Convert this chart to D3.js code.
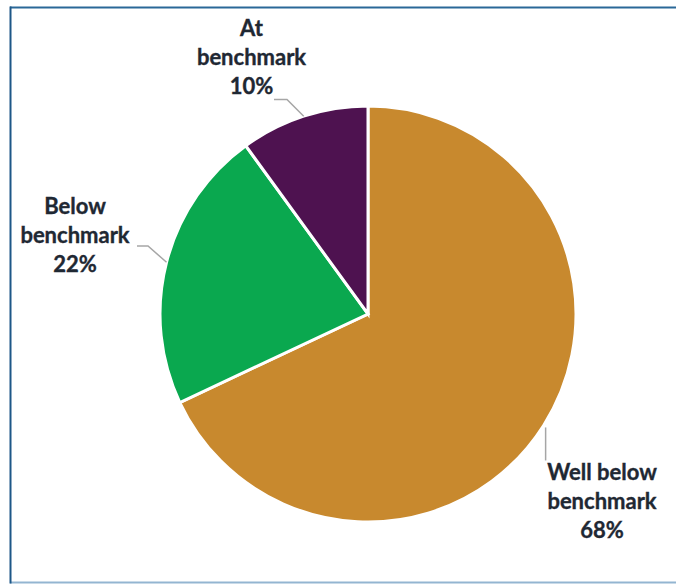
<!DOCTYPE html>
<html>
<head>
<meta charset="utf-8">
<script src="https://cdn.jsdelivr.net/npm/d3@7"></script>
<style>
  html, body { margin: 0; padding: 0; background: #ffffff; }
  svg { display: block; }
  text { font-family: Lato, "Open Sans", sans-serif; font-weight: 700; fill: #1f2833; }
</style>
</head>
<body>
<svg id="chart" width="676" height="584"></svg>
<script>
// ---- data ----
const categories = ["Well below benchmark", "Below benchmark", "At benchmark"];
const labelLines = [["Well below", "benchmark"], ["Below", "benchmark"], ["At", "benchmark"]];
const values = [68, 22, 10];
const colors = ["#c8892e", "#0aa84f", "#4e1250"];

const svg = d3.select("#chart");
const W = 676, H = 584;

// frame
svg.append("line").attr("x1", 10).attr("x2", W + 5).attr("y1", 7.5).attr("y2", 7.5)
  .attr("stroke", "#2a6898").attr("stroke-width", 2);
svg.append("line").attr("x1", 10).attr("x2", W + 5).attr("y1", 582.5).attr("y2", 582.5)
  .attr("stroke", "#93b5d1").attr("stroke-width", 2);
svg.append("line").attr("x1", 10.5).attr("x2", 10.5).attr("y1", 6.5).attr("y2", 583.5)
  .attr("stroke", "#1d5787").attr("stroke-width", 2);

const cx = 368, cy = 314, R = 208;
const g = svg.append("g").attr("transform", `translate(${cx},${cy})`);

const pie = d3.pie().sort(null).value(d => d)(values);
const arc = d3.arc().innerRadius(0).outerRadius(R);

g.selectAll("path.slice").data(pie).join("path")
  .attr("class", "slice")
  .attr("d", arc)
  .attr("fill", (d, i) => colors[i])
  .attr("stroke", "#ffffff")
  .attr("stroke-width", 3)
  .attr("stroke-linejoin", "miter");

// label layout (absolute positions of label blocks, leader elbows)
const labelLayout = [
  { x: 602, y: 480, leader: (p) => [[p[0] + 2, p[1] + 2], [p[0] + 2, p[1] + 35]] },
  { x: 75, y: 214, leader: (p) => [p, [148, 246], [137, 246]] },
  { x: 251.5, y: 36, leader: (p) => [p, [287, 99.5], [274, 99.5]] }
];

const leaderG = svg.append("g");
const labelG = svg.append("g");
pie.forEach((d, i) => {
  const mid = (d.startAngle + d.endAngle) / 2;
  const p = [cx + R * Math.sin(mid), cy - R * Math.cos(mid)];
  const pts = labelLayout[i].leader(p);
  leaderG.append("path")
    .attr("d", d3.line()(pts))
    .attr("fill", "none")
    .attr("stroke", "#a6a6a6")
    .attr("stroke-width", 1.5);

  const lines = labelLines[i].concat([d3.format(".0f")(d.data) + "%"]);
  const t = labelG.append("text")
    .attr("x", labelLayout[i].x)
    .attr("y", labelLayout[i].y)
    .attr("text-anchor", "middle")
    .style("font-size", "22px")
    .style("stroke", "#1f2833")
    .style("stroke-width", 0.35);
  lines.forEach((ln, k) => {
    t.append("tspan").attr("x", labelLayout[i].x).attr("dy", k === 0 ? 0 : 29).text(ln);
  });
});
</script>
</body>
</html>
